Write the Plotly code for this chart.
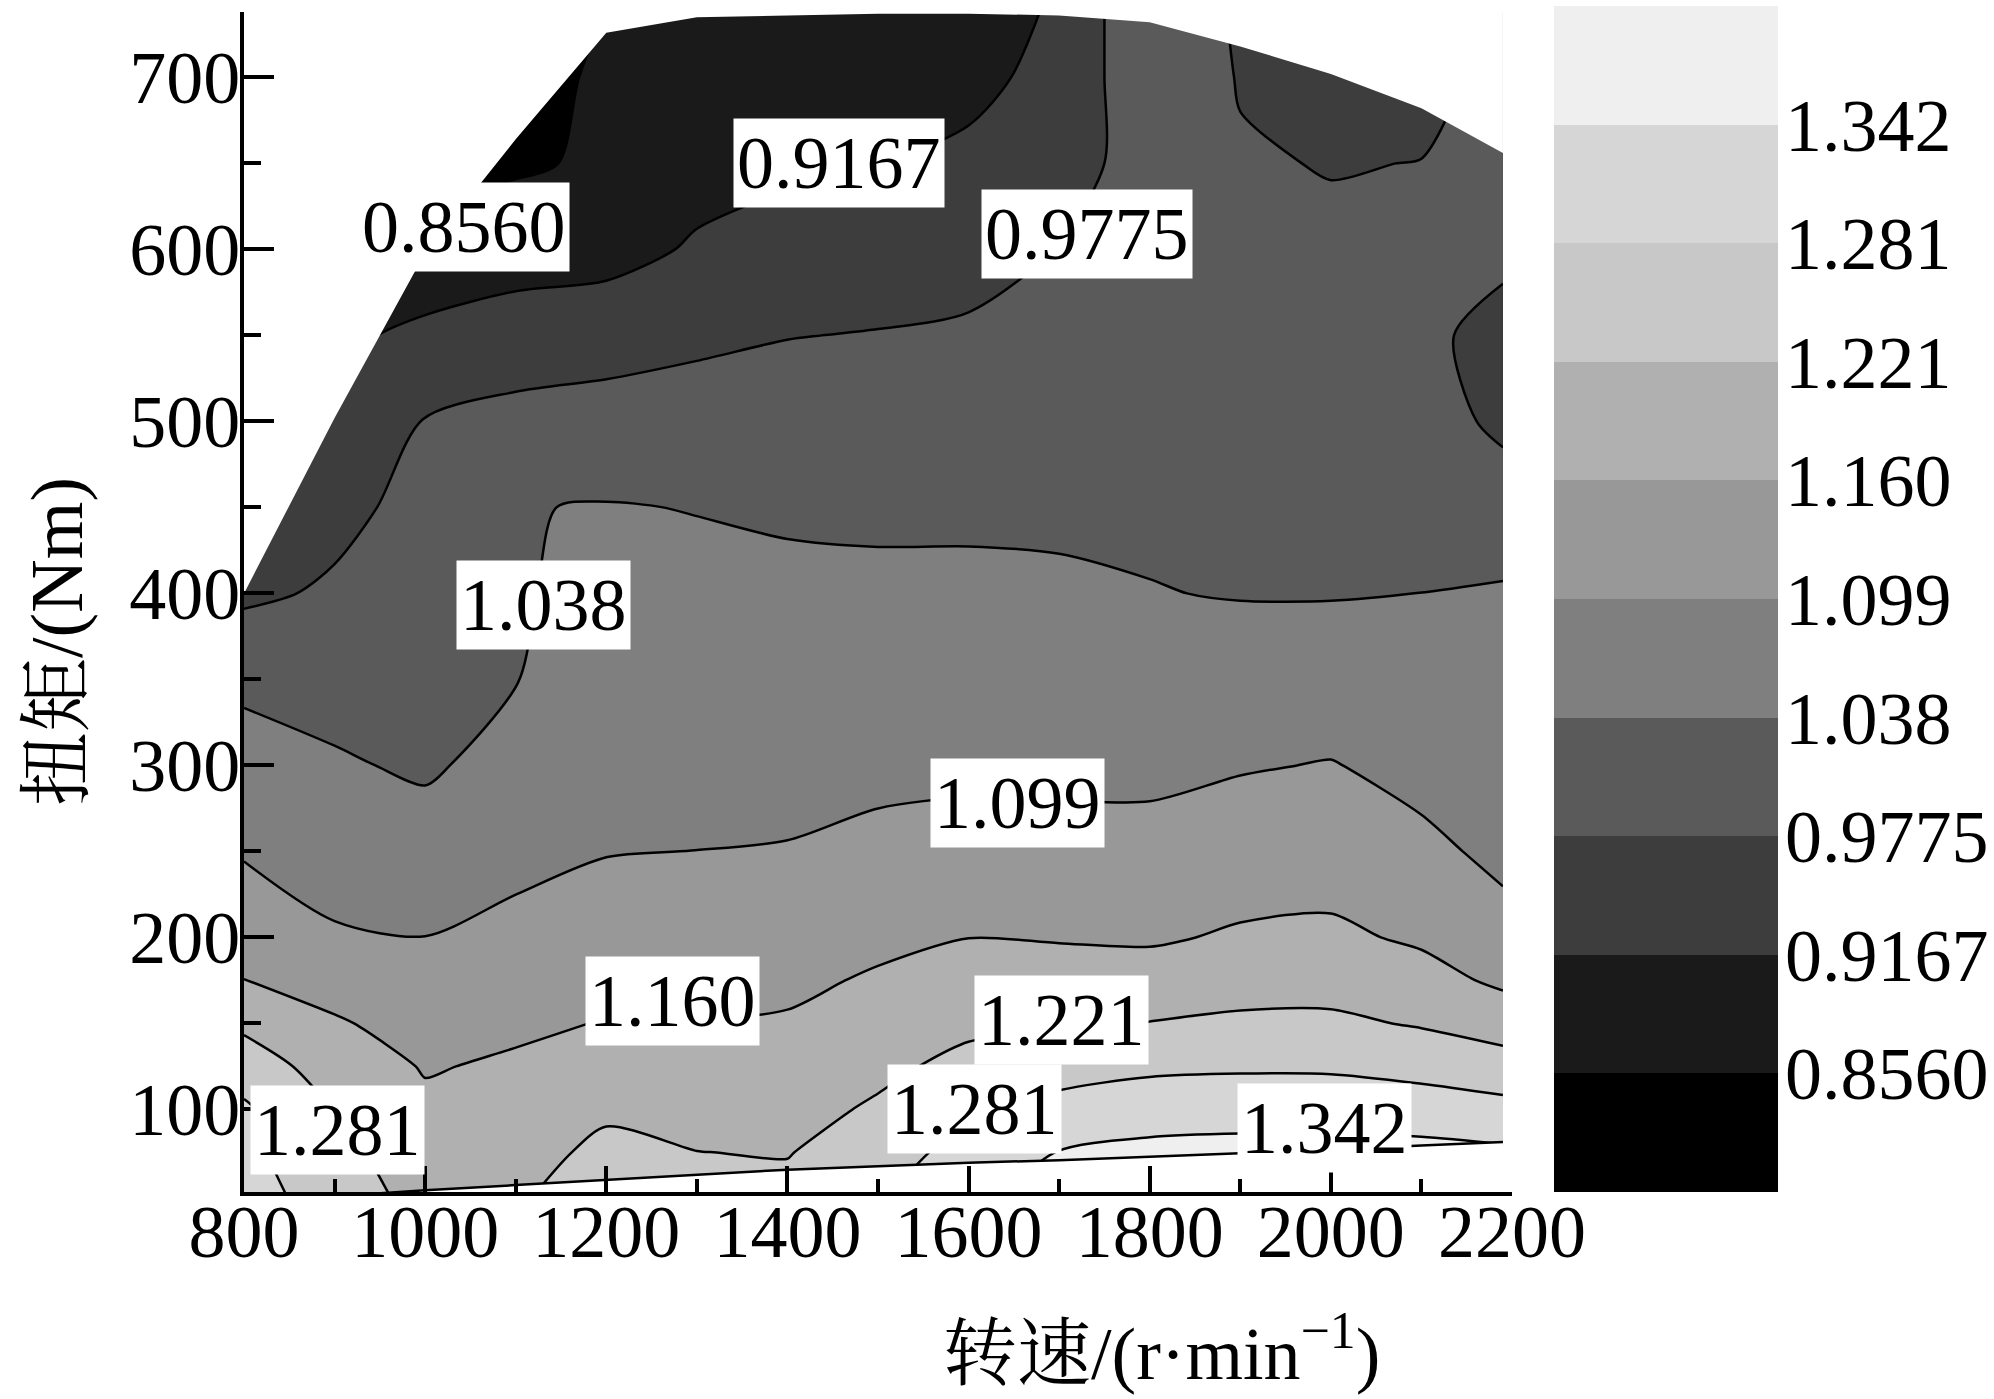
import plotly.graph_objects as go

# ---------------- data ----------------
rpm = [800, 900, 1000, 1100, 1200, 1300, 1400, 1500, 1600, 1700, 1800, 1900, 2000, 2100, 2190]
torque = [50, 75, 100, 125, 150, 175, 200, 250, 300, 350, 400, 450, 500, 550, 600, 650, 700, 750]

# efficiency-ratio values (rows = torque, cols = rpm)
z = [
    [1.300, 1.260, 1.195, 1.212, 1.255, 1.240, 1.235, 1.275, 1.325, 1.370, 1.390, 1.390, 1.390, 1.380, 1.380],
    [1.295, 1.240, 1.1825, 1.197, 1.235, 1.2212, 1.218, 1.2517, 1.304, 1.344, 1.357, 1.361, 1.361, 1.360, 1.352],
    [1.290, 1.219, 1.170, 1.182, 1.2109, 1.2011, 1.2003, 1.2284, 1.2703, 1.3013, 1.3145, 1.3176, 1.3172, 1.3105, 1.2993],
    [1.254, 1.192, 1.156, 1.167, 1.1864, 1.1811, 1.1826, 1.2071, 1.237, 1.2562, 1.2704, 1.274, 1.2734, 1.2616, 1.2454],
    [1.208, 1.166, 1.137, 1.1504, 1.162, 1.1612, 1.165, 1.1866, 1.2083, 1.2133, 1.2222, 1.2306, 1.2311, 1.2154, 1.1935],
    [1.1605, 1.136, 1.118, 1.1319, 1.1446, 1.1455, 1.1486, 1.1661, 1.1837, 1.1837, 1.1838, 1.197, 1.1989, 1.1803, 1.1493],
    [1.137, 1.105, 1.0995, 1.1135, 1.1278, 1.1301, 1.1328, 1.1474, 1.1593, 1.156, 1.1531, 1.1662, 1.1699, 1.1515, 1.1158],
    [1.094, 1.0735, 1.0655, 1.0843, 1.0969, 1.0993, 1.1013, 1.1113, 1.1174, 1.1161, 1.1163, 1.129, 1.1334, 1.1108, 1.0875],
    [1.063, 1.045, 1.030, 1.0602, 1.082, 1.0837, 1.0836, 1.0867, 1.0882, 1.0874, 1.0866, 1.095, 1.1014, 1.0831, 1.0722],
    [1.026, 1.0155, 1.0216, 1.0366, 1.0671, 1.0682, 1.067, 1.0681, 1.0688, 1.067, 1.0632, 1.0633, 1.0663, 1.0608, 1.057],
    [0.967, 0.985, 1.0078, 1.034, 1.0522, 1.0528, 1.0504, 1.0495, 1.0494, 1.0466, 1.0399, 1.0359, 1.0356, 1.0384, 1.0417],
    [0.940, 0.963, 0.9939, 1.036, 1.041, 1.0366, 1.0312, 1.0287, 1.029, 1.0285, 1.030, 1.0253, 1.0238, 1.0263, 1.018],
    [0.930, 0.930, 0.980, 0.9955, 0.9995, 1.0029, 1.0038, 1.0043, 1.007, 1.012, 1.020, 1.0147, 1.0118, 1.0143, 0.960],
    [0.920, 0.905, 0.9296, 0.9433, 0.9546, 0.9668, 0.9761, 0.9798, 0.985, 0.9956, 1.013, 1.0041, 0.9998, 1.0024, 0.940],
    [0.910, 0.890, 0.875, 0.8916, 0.895, 0.9236, 0.941, 0.9483, 0.957, 0.9791, 1.010, 0.9934, 0.9878, 0.9904, 1.0025],
    [0.900, 0.875, 0.845, 0.848, 0.865, 0.895, 0.9058, 0.9161, 0.926, 0.950, 1.005, 0.9828, 0.975, 0.9785, 0.990],
    [0.890, 0.865, 0.830, 0.835, 0.865, 0.878, 0.890, 0.900, 0.905, 0.930, 1.025, 0.974, 0.955, 0.960, 0.995],
    [0.880, 0.860, 0.820, 0.825, 0.855, 0.870, 0.880, 0.890, 0.895, 0.920, 1.035, 0.965, 0.945, 0.950, 1.000],
]

# operating envelope (external characteristic) and lower measured boundary
max_torque = [400, 502, 598, 664, 726, 735, 736, 737, 737, 736, 732, 718, 702, 682, 656]
min_torque = [46, 49.5, 53, 56, 59, 62, 65, 67, 69, 70.5, 72.5, 74.5, 76.5, 79, 81]

levels = [0.8560, 0.9167, 0.9775, 1.038, 1.099, 1.160, 1.221, 1.281, 1.342]
level_text = ["0.8560", "0.9167", "0.9775", "1.038", "1.099", "1.160", "1.221", "1.281", "1.342"]
band_colors = ["#000000", "#1a1a1a", "#3d3d3d", "#5a5a5a", "#7f7f7f",
               "#989898", "#b0b0b0", "#c8c8c8", "#d6d6d6", "#efefef"]

label_text = ["0.8560", "0.9167", "0.9775", "1.038", "1.099", "1.160", "1.221", "1.281", "1.281", "1.342"]
label_rpm = [1043, 1457, 1731, 1131, 1654, 1273, 1703, 1607, 800, 1993]
label_torque = [613, 650, 609, 393, 278, 163, 152, 100, 88, 89]
label_anchor = ["center"] * 8 + ["left", "center"]

x_title = "转速/(r·min<sup>−1</sup>)"
y_title = "扭矩/(Nm)"

# ---------------- layout geometry ----------------
W, H = 1994, 1399
px_left, px_right, px_top, px_bottom = 244, 1512, 12, 1192
cb_left, cb_right, cb_top, cb_bottom = 1554, 1778, 6, 1192
x_range = [800, 2200]
y_range = [52, 738]
y_top = 800

SERIF = "Liberation Serif, Times New Roman, serif"
CJK = "Liberation Serif, Noto Serif CJK SC, Noto Sans CJK SC, serif"
FS = 74

n = len(band_colors)
cscale = [[i / (n - 1), c] for i, c in enumerate(band_colors)]
step = (levels[-1] - levels[0]) / (len(levels) - 1)

fig = go.Figure()

fig.add_trace(go.Contour(
    x=rpm, y=torque, z=z,
    colorscale=cscale, showscale=False,
    contours=dict(start=levels[0], end=levels[-1], size=step, coloring="fill", showlabels=False),
    line=dict(color="black", width=2.5, smoothing=0.8),
    hoverinfo="skip", xaxis="x", yaxis="y",
))

# white mask above the maximum-torque envelope
fig.add_trace(go.Scatter(
    x=rpm + [rpm[-1], rpm[0]], y=max_torque + [y_top, y_top],
    fill="toself", fillcolor="white", mode="lines", line=dict(width=0, color="white"),
    hoverinfo="skip", xaxis="x", yaxis="y",
))

# white mask below the lower boundary (with its outline)
fig.add_trace(go.Scatter(
    x=rpm, y=min_torque, fill="tozeroy", fillcolor="white", mode="lines",
    line=dict(width=2.5, color="black"), hoverinfo="skip", xaxis="x", yaxis="y",
))

# discrete colour bar
fig.add_trace(go.Heatmap(
    z=[[i] for i in range(n)], x=[0], y=list(range(n)),
    colorscale=cscale, zmin=0, zmax=n - 1, showscale=False,
    hoverinfo="skip", xaxis="x2", yaxis="y2",
))

annotations = []
for t, xv, yv, anc in zip(label_text, label_rpm, label_torque, label_anchor):
    annotations.append(dict(
        x=xv, y=yv, xref="x", yref="y", text=t, showarrow=False,
        xanchor=anc, yanchor="middle", xshift=6 if anc == "left" else 0,
        bgcolor="white", borderpad=3,
        font=dict(family=SERIF, size=FS, color="black"),
    ))

annotations.append(dict(
    x=1161 / W, y=1 - 1348 / H, xref="paper", yref="paper", text=x_title,
    showarrow=False, xanchor="center", yanchor="middle",
    font=dict(family=CJK, size=FS, color="black"),
))
annotations.append(dict(
    x=57 / W, y=1 - 642 / H, xref="paper", yref="paper", text=y_title,
    showarrow=False, xanchor="center", yanchor="middle", textangle=-90,
    font=dict(family=CJK, size=FS, color="black"),
))

fig.update_layout(
    template="none",
    width=W, height=H,
    margin=dict(l=0, r=0, t=0, b=0, pad=0),
    paper_bgcolor="white", plot_bgcolor="white",
    showlegend=False,
    font=dict(family=SERIF, color="black", size=FS),
    xaxis=dict(
        domain=[px_left / W, px_right / W], range=x_range, anchor="y", automargin=False,
        tick0=800, dtick=200, ticks="inside", ticklen=26, tickwidth=4, tickcolor="black",
        minor=dict(dtick=100, tick0=800, ticks="inside", ticklen=13, tickwidth=4, tickcolor="black"),
        showline=True, linewidth=4, linecolor="black", mirror=False,
        showgrid=False, zeroline=False, ticklabelstandoff=-28,
        tickfont=dict(family=SERIF, size=FS, color="black"),
    ),
    yaxis=dict(
        domain=[1 - px_bottom / H, 1 - px_top / H], range=y_range, anchor="x", automargin=False,
        tick0=0, dtick=100, ticks="inside", ticklen=30, tickwidth=4, tickcolor="black",
        minor=dict(dtick=50, tick0=0, ticks="inside", ticklen=17, tickwidth=4, tickcolor="black"),
        showline=True, linewidth=4, linecolor="black", mirror=False,
        showgrid=False, zeroline=False, ticklabelstandoff=-15,
        tickfont=dict(family=SERIF, size=FS, color="black"),
    ),
    xaxis2=dict(
        domain=[cb_left / W, cb_right / W], range=[-0.5, 0.5], anchor="y2", automargin=False,
        visible=False, showgrid=False, zeroline=False,
    ),
    yaxis2=dict(
        domain=[1 - cb_bottom / H, 1 - cb_top / H], range=[-0.5, n - 0.5], anchor="x2",
        automargin=False,
        side="right", tickvals=[i + 0.5 for i in range(len(levels))], ticktext=level_text,
        ticks="", ticklabelstandoff=6,
        showline=False, showgrid=False, zeroline=False,
        tickfont=dict(family=SERIF, size=FS, color="black"),
    ),
    annotations=annotations,
)

fig.write_html(
    "out.html",
    config={"displayModeBar": False},
    post_script="document.body.style.margin='0';document.body.style.overflow='hidden';",
)
